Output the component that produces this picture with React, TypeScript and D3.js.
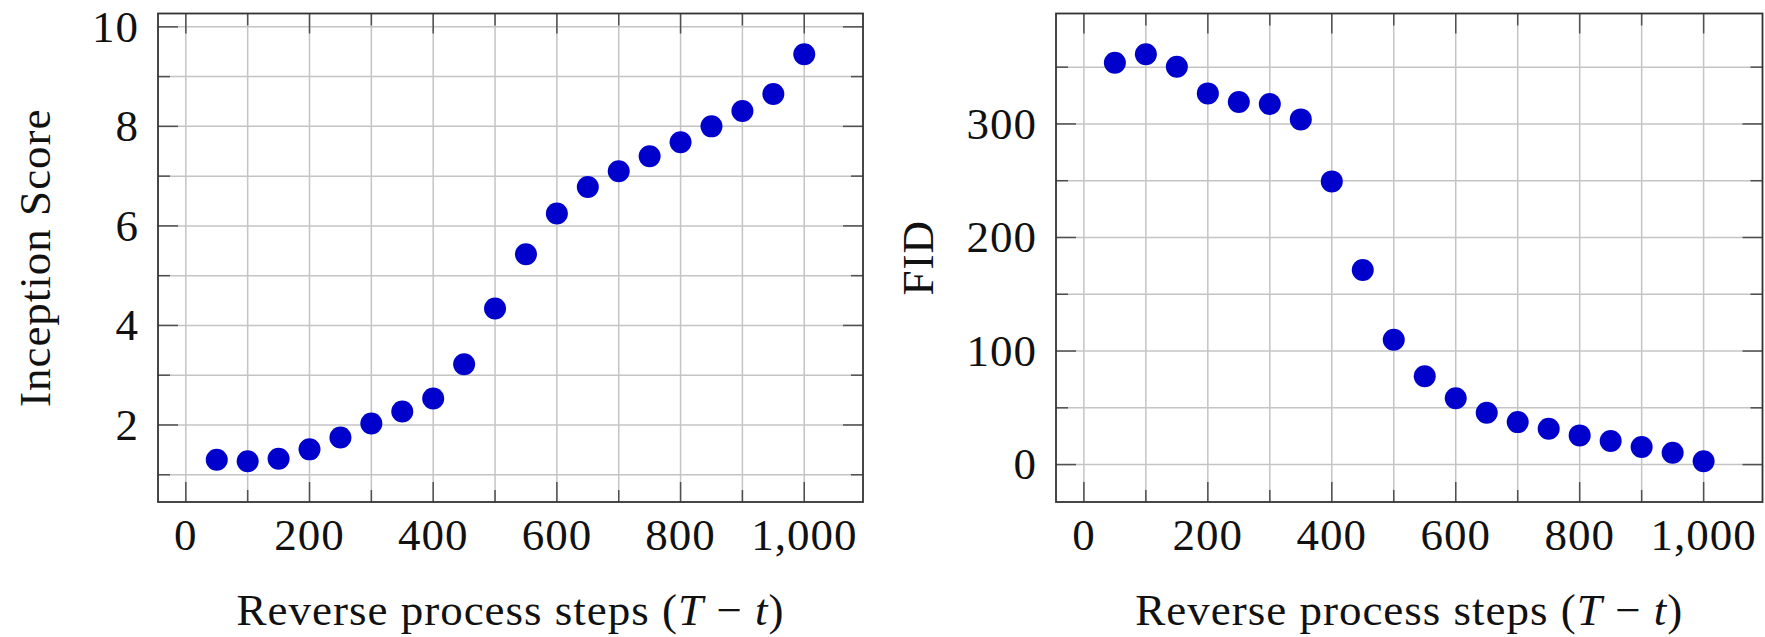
import React, {useEffect, useRef} from 'react';
import * as d3 from 'd3';

// reverse process steps, same for both panels
const steps = [50,100,150,200,250,300,350,400,450,500,550,600,650,700,750,800,850,900,950,1000];
const inceptionScore = [1.30,1.27,1.32,1.51,1.75,2.03,2.27,2.53,3.22,4.34,5.43,6.25,6.78,7.10,7.40,7.68,8.00,8.31,8.65,9.45];
const fid = [353.8,361.4,350.3,326.9,319.3,317.5,304.0,249.4,171.3,109.9,77.8,58.5,45.6,37.4,31.6,25.7,20.8,15.5,10.5,2.9];

const xMajor = [0,200,400,600,800,1000];
const xMinor = [100,300,500,700,900];
const isMajor = [2,4,6,8,10];
const isMinor = [1,3,5,7,9];
const fidMajor = [0,100,200,300];
const fidMinor = [50,150,250,350];

const FONT = '"Liberation Serif", "Times New Roman", serif';
const FS = 45;

function drawPanel(svg, o){
    const g = svg.append("g");
    // pgfplots style 10% enlargement
    const xs = d3.extent(o.xs), ys = d3.extent(o.ys);
    const xPad = (xs[1]-xs[0])*0.1, yPad = (ys[1]-ys[0])*0.1;
    const x = d3.scaleLinear().domain([xs[0]-xPad, xs[1]+xPad]).range([o.l, o.r]);
    const y = d3.scaleLinear().domain([ys[0]-yPad, ys[1]+yPad]).range([o.b, o.t]);

    const gridColor = "#c4c4c4";
    // grid
    g.selectAll(".gx").data(xMajor.concat(xMinor)).enter().append("line")
      .attr("x1",d=>x(d)).attr("x2",d=>x(d)).attr("y1",o.t).attr("y2",o.b)
      .attr("stroke",gridColor).attr("stroke-width",1.5);
    g.selectAll(".gy").data(o.yMajor.concat(o.yMinor)).enter().append("line")
      .attr("y1",d=>y(d)).attr("y2",d=>y(d)).attr("x1",o.l).attr("x2",o.r)
      .attr("stroke",gridColor).attr("stroke-width",1.5);

    // ticks, inward on every side
    const tickColor = "#505050";
    const tick = (vals, len, vertical) => {
        vals.forEach(v=>{
            if(vertical){
                g.append("line").attr("x1",x(v)).attr("x2",x(v)).attr("y1",o.b).attr("y2",o.b-len).attr("stroke",tickColor).attr("stroke-width",1.5);
                g.append("line").attr("x1",x(v)).attr("x2",x(v)).attr("y1",o.t).attr("y2",o.t+len).attr("stroke",tickColor).attr("stroke-width",1.5);
            } else {
                g.append("line").attr("y1",y(v)).attr("y2",y(v)).attr("x1",o.l).attr("x2",o.l+len).attr("stroke",tickColor).attr("stroke-width",1.5);
                g.append("line").attr("y1",y(v)).attr("y2",y(v)).attr("x1",o.r).attr("x2",o.r-len).attr("stroke",tickColor).attr("stroke-width",1.5);
            }
        })
    }
    tick(xMajor,20,true); tick(xMinor,12,true);
    tick(o.yMajor,20,false); tick(o.yMinor,12,false);

    // frame
    g.append("rect").attr("x",o.l).attr("y",o.t).attr("width",o.r-o.l).attr("height",o.b-o.t)
      .attr("fill","none").attr("stroke","#333").attr("stroke-width",1.8);

    // points
    g.selectAll("circle").data(o.xs.map((d,i)=>[d,o.ys[i]])).enter().append("circle")
      .attr("cx",d=>x(d[0])).attr("cy",d=>y(d[1])).attr("r",11).attr("fill","#0000cc");

    // tick labels
    const fmt = d3.format(",");
    g.selectAll(".xl").data(xMajor).enter().append("text")
      .attr("x",d=>x(d)).attr("y",o.b+48).attr("text-anchor","middle")
      .attr("font-family",FONT).attr("font-size",FS).attr("letter-spacing",1).attr("fill","#111").text(d=>fmt(d));
    g.selectAll(".yl").data(o.yMajor).enter().append("text")
      .attr("x",o.l-19).attr("y",d=>y(d)).attr("dy","0.33em").attr("text-anchor","end")
      .attr("font-family",FONT).attr("font-size",FS).attr("letter-spacing",1).attr("fill","#111").text(d=>fmt(d));

    // axis titles
    const xt = g.append("text").attr("x",(o.l+o.r)/2).attr("y",625).attr("text-anchor","middle")
      .attr("font-family",FONT).attr("font-size",FS).attr("letter-spacing",1).attr("fill","#111");
    xt.append("tspan").text("Reverse process steps (");
    xt.append("tspan").attr("font-style","italic").text("T");
    xt.append("tspan").text(" \u2212 ");
    xt.append("tspan").attr("font-style","italic").text("t");
    xt.append("tspan").text(")");

    g.append("text").attr("transform",`translate(${o.titleX},${(o.t+o.b)/2}) rotate(-90)`)
      .attr("text-anchor","middle").attr("font-family",FONT).attr("font-size",FS).attr("letter-spacing",1).attr("fill","#111")
      .text(o.title);
}

export default function App(){
    const svgRef = useRef();
    useEffect(()=>{
        document.body.style.margin = "0";
        const svg = d3.select(svgRef.current);
        svg.selectAll("*").remove();
        drawPanel(svg,{xs:steps, ys:inceptionScore, l:158, r:863, t:13.5, b:502,
            yMajor:isMajor, yMinor:isMinor, title:"Inception Score", titleX:50});
        drawPanel(svg,{xs:steps, ys:fid, l:1056, r:1762.5, t:13.5, b:502,
            yMajor:fidMajor, yMinor:fidMinor, title:"FID", titleX:933});
    },[])

    return (
      <svg ref={svgRef} width="1765" height="637" style={{display:"block", background:"#fff"}}></svg>
    )
}
